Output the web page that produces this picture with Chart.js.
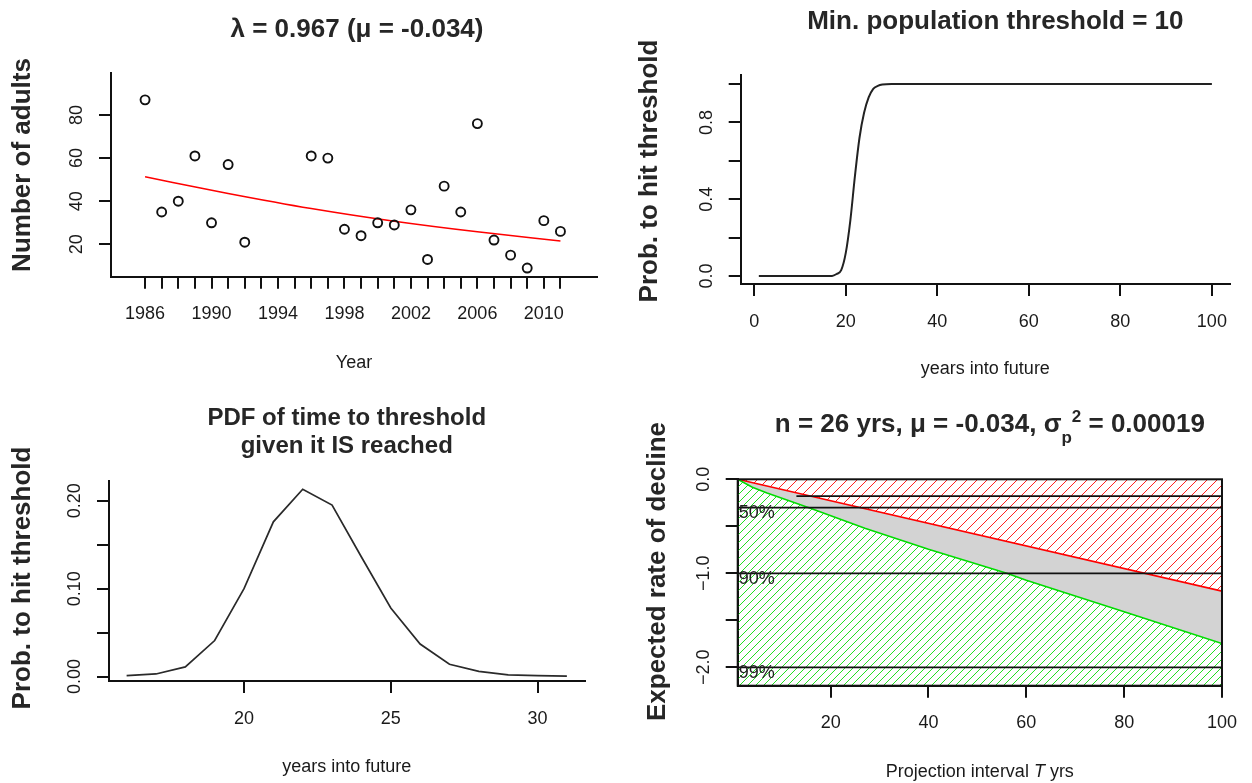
<!DOCTYPE html>
<html>
<head>
<meta charset="utf-8">
<script src="https://cdn.jsdelivr.net/npm/chart.js@4.4.1/dist/chart.umd.min.js"></script>
<style>
  html, body { margin: 0; padding: 0; background: #fff; }
  #wrap { position: relative; width: 1252px; height: 783px; overflow: hidden; }
  #wrap canvas { position: absolute; left: 0; top: 0; }
</style>
</head>
<body>
<div id="wrap">
  <canvas id="countChart" width="1252" height="783"></canvas>
  <canvas id="cdfChart" width="1252" height="783"></canvas>
  <canvas id="pdfChart" width="1252" height="783"></canvas>
  <canvas id="rateChart" width="1252" height="783"></canvas>
</div>
<script>
const FONT = '"Liberation Sans", Arial, Helvetica, sans-serif';
const INK = "#1a1a1a";
const HEAD = "#262626";

// panel 1: counts of adults
const countYears = [1986,1987,1988,1989,1990,1991,1992,1996,1997,1998,1999,2000,2001,2002,2003,2004,2005,2006,2007,2008,2009,2010,2011];
const adults = [87,35,40,61,30,57,21,61,60,27,24,30,29,36,13,47,35,76,22,15,9,31,26];
const trendYears = [1986,1991,1996,2001,2006,2011];
const trendAdults = [51.3,43.6,36.6,30.7,25.8,21.6];
const yearTicks = [1986,1987,1988,1989,1990,1991,1992,1993,1994,1995,1996,1997,1998,1999,2000,2001,2002,2003,2004,2005,2006,2007,2008,2009,2010,2011];
const yearLabels = [1986,1990,1994,1998,2002,2006,2010];
const adultTicks = [20,40,60,80];

// panel 2: cumulative prob. to hit threshold
const cdfYears = [1,17,18,19,20,21,22,23,24,25,26,27,28,30,100];
const cdfProb = [0,0,0.01,0.03,0.12,0.29,0.52,0.72,0.85,0.93,0.975,0.99,0.997,1,1];
const futureTicks = [0,20,40,60,80,100];
const probTicks = [0,0.2,0.4,0.6,0.8,1];
const probLabels = [0,0.4,0.8];

// panel 3: PDF of time to threshold
const pdfYears = [16,17,18,19,20,21,22,23,24,25,26,27,28,29,30,31];
const pdfProb = [0.001,0.003,0.011,0.041,0.100,0.176,0.213,0.195,0.136,0.078,0.037,0.014,0.006,0.002,0.001,0.0005];
const pdfXTicks = [20,25,30];
const pdfYTicks = [0,0.05,0.1,0.15,0.2];
const pdfYLabels = [0,0.1,0.2];

// panel 4: expected rate of decline
const meanT = [1,100];
const meanRate = [0,-1.19];
const lowT = [1,4,7,16,27,40,56,60,80,100];
const lowRate = [0,-0.085,-0.145,-0.31,-0.52,-0.745,-1.0,-1.075,-1.41,-1.747];
const declineLevels = [-0.301,-1,-2];
const declineLabels = ["50%","90%","99%"];
const extraLevel = -0.18;
const extraFrom = 13;
const projTicks = [20,40,60,80,100];
const rateTicks = [0,-0.5,-1,-1.5,-2];
const rateLabels = [0,-1,-2];

const pts = (xs, ys) => xs.map((x, i) => ({x: x, y: ys[i]}));
const near = (list, v) => list.some(t => Math.abs(t - v) < 1e-9);

const GRID = {display: true, drawOnChartArea: false, drawTicks: true, tickLength: 12, color: "#111", lineWidth: 2};
const BORDER = {display: true, color: "#111", width: 2};

// b: plot box L,R,T,B, y title centre (yt, yc) and x title centre (xt)
function xScale(b, min, max, ticks, label, title){
  return {
    type: "linear", position: "bottom", min: min, max: max,
    afterBuildTicks: s => { s.ticks = ticks.map(v => ({value: v})); },
    afterFit: s => { s.height = b.xt + 10.8 - b.B; },
    grid: GRID, border: BORDER,
    ticks: {autoSkip: false, minRotation: 0, maxRotation: 0, padding: 15, color: INK,
            font: {family: FONT, size: 18}, callback: label},
    title: {display: !!title, text: title || "", color: INK, font: {family: FONT, size: 18}, padding: 0}
  };
}
function yScale(b, min, max, ticks, label, pad){
  return {
    type: "linear", position: "left", min: min, max: max,
    afterBuildTicks: s => { s.ticks = ticks.map(v => ({value: v})); },
    afterFit: s => { s.width = b.L - (b.yt - 15.6); },
    grid: GRID, border: BORDER,
    ticks: {autoSkip: false, minRotation: 90, maxRotation: 90, crossAlign: "center", padding: pad,
            color: INK, font: {family: FONT, size: 18}, callback: label}
  };
}
// y axis title, rotated like R's ylab
function yTitle(b, text){
  return {id: "ytitle", afterDraw(chart){
    const ctx = chart.ctx;
    ctx.save();
    ctx.translate(b.yt, b.yc);
    ctx.rotate(-Math.PI / 2);
    ctx.fillStyle = HEAD;
    ctx.font = "bold 26px " + FONT;
    ctx.textAlign = "center";
    ctx.textBaseline = "middle";
    ctx.fillText(text, 0, 0);
    ctx.restore();
  }};
}
function panel(id, b, scales, datasets, plugins){
  return new Chart(document.getElementById(id), {
    type: "line",
    data: {datasets: datasets},
    options: {
      responsive: false, animation: false, events: [],
      layout: {autoPadding: false,
               padding: {left: b.yt - 15.6, right: 1252 - b.R, top: b.T, bottom: 783 - (b.xt + 10.8)}},
      plugins: {legend: {display: false}, tooltip: {enabled: false}},
      scales: scales
    },
    plugins: plugins || []
  });
}
function heading(draw, size){
  return {id: "heading", afterDraw(chart){
    const ctx = chart.ctx;
    ctx.save();
    ctx.fillStyle = HEAD;
    ctx.textAlign = "center";
    ctx.textBaseline = "middle";
    ctx.font = "bold " + (size || 26) + "px " + FONT;
    draw(ctx, chart.chartArea);
    ctx.restore();
  }};
}
const mid = a => (a.left + a.right) / 2;

// ---- panel 1 ----
const b1 = {L: 111, R: 597, T: 72.7, B: 276.7, yt: 22.5, yc: 165, xt: 363};
panel("countChart", b1, {
  x: xScale(b1, 1983.95, 2013.2, yearTicks, v => near(yearLabels, v) ? String(v) : "", "Year"),
  y: yScale(b1, 5, 99.6, adultTicks, v => String(v), 12)
}, [
  {data: pts(countYears, adults), showLine: false, pointRadius: 4.5, pointBorderWidth: 1.9,
   pointBorderColor: "#111", pointBackgroundColor: "rgba(0,0,0,0)"},
  {data: pts(trendYears, trendAdults), borderColor: "#ff0000", borderWidth: 1.5, pointRadius: 0,
   cubicInterpolationMode: "monotone"}
], [yTitle(b1, "Number of adults"),
    heading((ctx, a) => ctx.fillText("λ = 0.967 (μ = -0.034)", mid(a) + 3, 30))]);

// ---- panel 2 ----
const b2 = {L: 740.7, R: 1230, T: 75, B: 284, yt: 650, yc: 171, xt: 369};
panel("cdfChart", b2, {
  x: xScale(b2, -2.96, 103.96, futureTicks, v => String(v), "years into future"),
  y: yScale(b2, -0.042, 1.047, probTicks, v => near(probLabels, v) ? v.toFixed(1) : "", 9.5)
}, [
  {data: pts(cdfYears, cdfProb), borderColor: "#222", borderWidth: 2, pointRadius: 0,
   cubicInterpolationMode: "monotone"}
], [yTitle(b2, "Prob. to hit threshold"),
    heading((ctx, a) => ctx.fillText("Min. population threshold = 10", mid(a) + 10, 22))]);

// ---- panel 3 ----
const b3 = {L: 109, R: 584.5, T: 481, B: 681, yt: 22.5, yc: 578, xt: 766.7};
panel("pdfChart", b3, {
  x: xScale(b3, 15.4, 31.6, pdfXTicks, v => String(v), "years into future"),
  y: yScale(b3, -0.005, 0.2224, pdfYTicks, v => near(pdfYLabels, v) ? v.toFixed(2) : "", 4.5)
}, [
  {data: pts(pdfYears, pdfProb), borderColor: "#2a2a2a", borderWidth: 1.7, pointRadius: 0, tension: 0}
], [yTitle(b3, "Prob. to hit threshold"),
    heading((ctx, a) => {
      ctx.fillText("PDF of time to threshold", mid(a), 418.3);
      ctx.fillText("given it IS reached", mid(a), 446.7);
    }, 24)]);

// ---- panel 4 ----
const b4 = {L: 737.7, R: 1226.6, T: 479.3, B: 685.7, yt: 658, yc: 571.5, xt: 772.2};
const hline = (x0, x1, y) => ({data: pts([x0, x1], [y, y]), borderColor: "#111", borderWidth: 1.8, pointRadius: 0, fill: false});
const LOW = 4, MEAN = 5;

// diagonal hatching: below the lower bound (green) and above the mean line (red),
// clipped to the polygons made by the dataset points
const hatchFill = {id: "hatchFill", beforeDatasetsDraw(chart){
  const ctx = chart.ctx, a = chart.chartArea;
  const region = (idx, edgeY, color, step) => {
    const P = chart.getDatasetMeta(idx).data;
    ctx.save();
    ctx.beginPath();
    ctx.rect(a.left, a.top, a.right - a.left, a.bottom - a.top);
    ctx.clip();
    ctx.beginPath();
    ctx.moveTo(P[0].x, edgeY);
    P.forEach(p => ctx.lineTo(p.x, p.y));
    ctx.lineTo(P[P.length - 1].x, edgeY);
    ctx.closePath();
    ctx.clip();
    ctx.strokeStyle = color;
    ctx.lineWidth = 1;
    ctx.beginPath();
    const h = a.bottom - a.top;
    for (let x = a.left - h; x < a.right + h; x += step) {
      ctx.moveTo(x, a.bottom);
      ctx.lineTo(x + h, a.top);
    }
    ctx.stroke();
    ctx.restore();
  };
  region(LOW, a.bottom, "#22dd22", 8);
  region(MEAN, a.top, "#ff2020", 10);
}};

const rateDecor = {id: "rateDecor", afterDatasetsDraw(chart){
  const ctx = chart.ctx, a = chart.chartArea, ys = chart.scales.y;
  ctx.save();
  ctx.strokeStyle = "#111"; ctx.lineWidth = 2;
  ctx.strokeRect(a.left, a.top, a.right - a.left, a.bottom - a.top);
  ctx.fillStyle = "#222"; ctx.font = "18px " + FONT;
  ctx.textAlign = "left"; ctx.textBaseline = "middle";
  declineLevels.forEach((v, i) => ctx.fillText(declineLabels[i], a.left + 1, ys.getPixelForValue(v) + 5.5));
  ctx.restore();
}};
const rateTitles = {id: "rateTitles", afterDraw(chart){
  const ctx = chart.ctx, a = chart.chartArea;
  ctx.save();
  ctx.fillStyle = HEAD; ctx.textBaseline = "alphabetic"; ctx.textAlign = "left";
  const parts = [
    {t: "n = 26 yrs, μ = -0.034, σ", f: "bold 26px " + FONT, dy: 0},
    {t: "p", f: "bold 17px " + FONT, dy: 11},
    {t: "2", f: "bold 17px " + FONT, dy: -10},
    {t: " = 0.00019", f: "bold 26px " + FONT, dy: 0}
  ];
  let w = 0;
  parts.forEach(p => { ctx.font = p.f; p.w = ctx.measureText(p.t).width; w += p.w; });
  let x = mid(a) + 10 - w / 2;
  parts.forEach(p => { ctx.font = p.f; ctx.fillText(p.t, x, 432 + p.dy); x += p.w; });
  ctx.fillStyle = INK; ctx.textBaseline = "middle";
  const xl = [
    {t: "Projection interval ", f: "18px " + FONT},
    {t: "T", f: "italic 18px " + FONT},
    {t: " yrs", f: "18px " + FONT}
  ];
  w = 0;
  xl.forEach(p => { ctx.font = p.f; p.w = ctx.measureText(p.t).width; w += p.w; });
  x = mid(a) - w / 2;
  xl.forEach(p => { ctx.font = p.f; ctx.fillText(p.t, x, 772); x += p.w; });
  ctx.restore();
}};

panel("rateChart", b4, {
  x: xScale(b4, 1, 100, projTicks, v => String(v), ""),
  y: yScale(b4, -2.196, 0, rateTicks, v => near(rateLabels, v) ? (v < 0 ? "\u2212" + Math.abs(v).toFixed(1) : v.toFixed(1)) : "", 4.2)
}, [
  hline(1, 100, declineLevels[0]),
  hline(1, 100, declineLevels[1]),
  hline(1, 100, declineLevels[2]),
  hline(extraFrom, 100, extraLevel),
  {data: pts(lowT, lowRate), borderColor: "#00dd00", borderWidth: 1.6, pointRadius: 0, tension: 0, fill: false},
  {data: pts(meanT, meanRate), borderColor: "#ff0000", borderWidth: 1.6, pointRadius: 0, fill: false},
  {data: pts(meanT, meanRate), borderWidth: 0, borderColor: "rgba(0,0,0,0)", pointRadius: 0,
   fill: LOW, backgroundColor: "#d3d3d3"}
], [hatchFill, yTitle(b4, "Expected rate of decline"), rateDecor, rateTitles]);
</script>
</body>
</html>
